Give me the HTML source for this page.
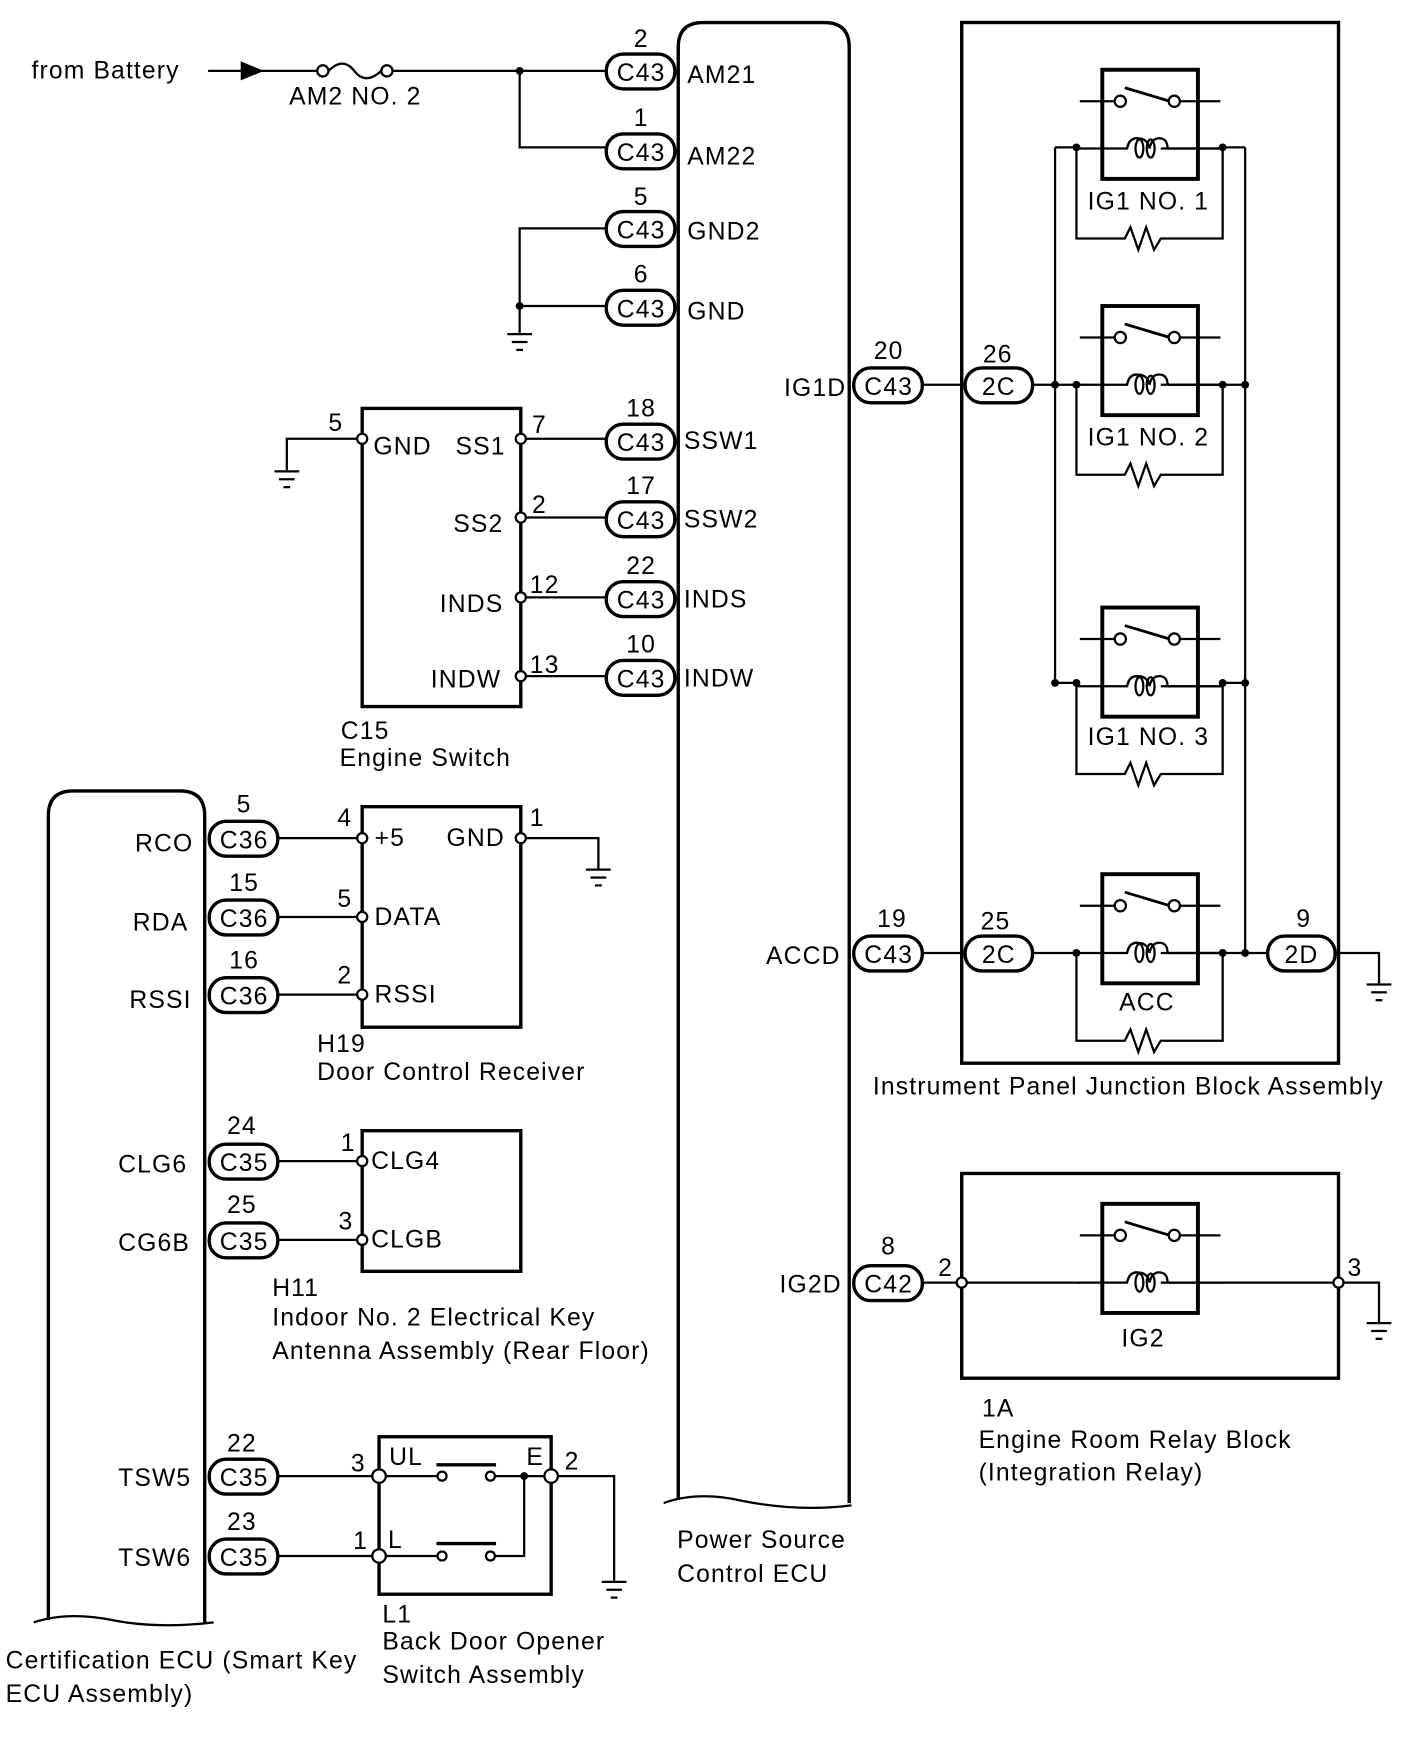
<!DOCTYPE html>
<html><head><meta charset="utf-8"><style>
html,body{margin:0;padding:0;background:#fff;}
svg{display:block;}
text{font-family:"Liberation Sans",Arial,sans-serif;font-size:22px;fill:#000;letter-spacing:1px;}
</style></head><body>
<svg width="1424" height="1763" viewBox="0 0 1266 1567" preserveAspectRatio="none" xmlns="http://www.w3.org/2000/svg" font-family="Liberation Sans, Arial, sans-serif">
<defs>
<g id="gnd" stroke="#000" stroke-width="2" fill="none">
<line x1="-11" y1="0" x2="11" y2="0"/><line x1="-7" y1="7" x2="7" y2="7"/><line x1="-3" y1="14" x2="3" y2="14"/>
</g>
<g id="relay" stroke="#000" fill="none">
<rect x="980" y="0" width="85" height="97" stroke-width="3.5"/>
<line x1="960" y1="28" x2="991" y2="28" stroke-width="2"/>
<circle cx="996" cy="28" r="5" stroke-width="2" fill="#fff"/>
<line x1="1000" y1="16" x2="1040" y2="28" stroke-width="2.5"/>
<circle cx="1044" cy="28" r="5" stroke-width="2" fill="#fff"/>
<line x1="1049" y1="28" x2="1085" y2="28" stroke-width="2"/>
<path d="M957 70 H1002 Q1004 60 1012 61 Q1020 61 1022 70 M1032 70 H1087" stroke-width="2"/>
<path d="M1002 70 Q1004 60 1012 61 M1022 70 Q1024 60 1032 61 Q1038 62 1038 70" stroke-width="2"/>
<ellipse cx="1013" cy="70" rx="3.5" ry="8" stroke-width="2"/>
<ellipse cx="1023" cy="70" rx="3.5" ry="8" stroke-width="2"/>
<line x1="1038" y1="70" x2="1087" y2="70" stroke-width="2"/>
</g>
</defs>
<g stroke="#000" fill="none" stroke-width="2">
<line x1="185" y1="63" x2="282" y2="63"/>
<polygon points="215,56 232,63 215,70" fill="#000"/>
<circle cx="287" cy="63" r="5"/><circle cx="344" cy="63" r="5"/>
<path d="M292 63 Q305 50 315 63 Q325 76 339 63"/>
<line x1="349" y1="63" x2="540" y2="63"/>
<polyline points="462,63 462,131 540,131"/>
<polyline points="540,203 462,203 462,296"/>
<line x1="462" y1="272" x2="540" y2="272"/>
<use href="#gnd" x="462" y="297"/>
<path d="M603 1333 V42 Q603 20 625 20 H733 Q755 20 755 42 V1336" stroke-width="3"/>
<path d="M590 1336 Q620 1325 660 1334 Q710 1344 757 1338" stroke-width="2"/>
<rect x="322" y="363" width="141" height="265" stroke-width="3"/>
<polyline points="318,390 255,390 255,418"/>
<use href="#gnd" x="255" y="419"/>
<line x1="467" y1="390" x2="540" y2="390"/>
<line x1="467" y1="460" x2="540" y2="460"/>
<line x1="467" y1="531" x2="540" y2="531"/>
<line x1="467" y1="601" x2="540" y2="601"/>
<path d="M43 1440 V725 Q43 703 65 703 H160 Q182 703 182 725 V1442" stroke-width="3"/>
<path d="M30 1442 Q60 1432 100 1440 Q140 1448 190 1442"/>
<rect x="322" y="717" width="141" height="196" stroke-width="3"/>
<line x1="247" y1="745" x2="318" y2="745"/>
<line x1="247" y1="815" x2="318" y2="815"/>
<line x1="247" y1="884" x2="318" y2="884"/>
<polyline points="467,745 532,745 532,772"/>
<use href="#gnd" x="532" y="773"/>
<rect x="322" y="1005" width="141" height="125" stroke-width="3"/>
<line x1="247" y1="1032" x2="318" y2="1032"/>
<line x1="247" y1="1102" x2="318" y2="1102"/>
<rect x="337" y="1277" width="153" height="140" stroke-width="3"/>
<line x1="247" y1="1312" x2="331" y2="1312"/>
<line x1="247" y1="1383" x2="331" y2="1383"/>
<line x1="343" y1="1312" x2="389" y2="1312"/>
<line x1="343" y1="1383" x2="389" y2="1383"/>
<circle cx="393" cy="1312" r="4"/><circle cx="436" cy="1312" r="4"/>
<circle cx="393" cy="1383" r="4"/><circle cx="436" cy="1383" r="4"/>
<line x1="439" y1="1312" x2="484" y2="1312"/>
<polyline points="440,1383 466,1383 466,1312"/>
<line x1="388" y1="1302" x2="441" y2="1302" stroke-width="3"/>
<line x1="388" y1="1372" x2="441" y2="1372" stroke-width="3"/>
<polyline points="496,1312 546,1312 546,1405"/>
<use href="#gnd" x="546" y="1406"/>
<rect x="855" y="20" width="335" height="925" stroke-width="3"/>
<use href="#relay" y="62"/>
<use href="#relay" y="272"/>
<use href="#relay" y="540"/>
<use href="#relay" y="777"/>
<path d="M957 131 V212 H1000 L1005 202 L1012 222 L1019 202 L1026 222 L1032 212 H1087 V131"/>
<path d="M957 342 V422 H1000 L1005 412 L1012 432 L1019 412 L1026 432 L1032 422 H1087 V342"/>
<path d="M957 607 V688 H1000 L1005 678 L1012 698 L1019 678 L1026 698 L1032 688 H1087 V607"/>
<path d="M957 847 V925 H1000 L1005 915 L1012 935 L1019 915 L1026 935 L1032 925 H1087 V847"/>
<line x1="938" y1="131" x2="957" y2="131"/><line x1="1087" y1="131" x2="1107" y2="131"/>
<line x1="938" y1="131" x2="938" y2="607"/>
<line x1="1107" y1="131" x2="1107" y2="847"/>
<line x1="820" y1="342" x2="858" y2="342"/>
<line x1="918" y1="342" x2="957" y2="342"/><line x1="1087" y1="342" x2="1107" y2="342"/>
<line x1="938" y1="607" x2="957" y2="607"/><line x1="1087" y1="607" x2="1107" y2="607"/>
<line x1="820" y1="847" x2="858" y2="847"/>
<line x1="918" y1="847" x2="957" y2="847"/><line x1="1087" y1="847" x2="1127" y2="847"/>
<polyline points="1187,847 1226,847 1226,874"/>
<use href="#gnd" x="1226" y="875"/>
<rect x="855" y="1043" width="335" height="182" stroke-width="3"/>
<use href="#relay" y="1070"/>
<line x1="820" y1="1140" x2="851" y2="1140"/>
<line x1="859" y1="1140" x2="960" y2="1140"/>
<line x1="1085" y1="1140" x2="1186" y2="1140"/>
<polyline points="1194,1140 1226,1140 1226,1175"/>
<use href="#gnd" x="1226" y="1176"/>
</g>
<g fill="#000">
<circle cx="462" cy="63" r="3.5"/><circle cx="462" cy="272" r="3.5"/>
<circle cx="466" cy="1312" r="3.5"/>
<circle cx="957" cy="131" r="3.5"/><circle cx="1087" cy="131" r="3.5"/>
<circle cx="938" cy="342" r="3.5"/><circle cx="957" cy="342" r="3.5"/><circle cx="1087" cy="342" r="3.5"/><circle cx="1107" cy="342" r="3.5"/>
<circle cx="938" cy="607" r="3.5"/><circle cx="957" cy="607" r="3.5"/><circle cx="1087" cy="607" r="3.5"/><circle cx="1107" cy="607" r="3.5"/>
<circle cx="957" cy="847" r="3.5"/><circle cx="1087" cy="847" r="3.5"/><circle cx="1107" cy="847" r="3.5"/>
</g>
<g fill="#fff" stroke="#000" stroke-width="2">
<circle cx="322" cy="390" r="4.5"/><circle cx="463" cy="390" r="4.5"/><circle cx="463" cy="460" r="4.5"/><circle cx="463" cy="531" r="4.5"/><circle cx="463" cy="601" r="4.5"/>
<circle cx="322" cy="745" r="4.5"/><circle cx="322" cy="815" r="4.5"/><circle cx="322" cy="884" r="4.5"/><circle cx="463" cy="745" r="4.5"/>
<circle cx="322" cy="1032" r="4.5"/><circle cx="322" cy="1102" r="4.5"/>
<circle cx="337" cy="1312" r="6"/><circle cx="337" cy="1383" r="6"/><circle cx="490" cy="1312" r="6"/>
<circle cx="855" cy="1140" r="4.5"/><circle cx="1190" cy="1140" r="4.5"/>
</g>
<g fill="#fff" stroke="#000" stroke-width="3">
<rect x="539" y="48" width="61" height="31" rx="15"/>
<rect x="539" y="119" width="61" height="31" rx="15"/>
<rect x="539" y="188" width="61" height="31" rx="15"/>
<rect x="539" y="258" width="61" height="31" rx="15"/>
<rect x="539" y="377" width="61" height="31" rx="15"/>
<rect x="539" y="446" width="61" height="31" rx="15"/>
<rect x="539" y="517" width="61" height="31" rx="15"/>
<rect x="539" y="587" width="61" height="31" rx="15"/>
<rect x="186" y="730" width="61" height="31" rx="15"/>
<rect x="186" y="800" width="61" height="31" rx="15"/>
<rect x="186" y="869" width="61" height="31" rx="15"/>
<rect x="186" y="1017" width="61" height="31" rx="15"/>
<rect x="186" y="1087" width="61" height="31" rx="15"/>
<rect x="186" y="1297" width="61" height="31" rx="15"/>
<rect x="186" y="1368" width="61" height="31" rx="15"/>
<rect x="759" y="327" width="61" height="31" rx="15"/>
<rect x="858" y="327" width="60" height="31" rx="15"/>
<rect x="759" y="832" width="61" height="31" rx="15"/>
<rect x="858" y="832" width="60" height="31" rx="15"/>
<rect x="1127" y="832" width="60" height="31" rx="15"/>
<rect x="759" y="1125" width="61" height="31" rx="15"/>
</g>
<g text-anchor="middle">
<text x="570" y="72">C43</text><text x="570" y="143">C43</text><text x="570" y="212">C43</text><text x="570" y="282">C43</text>
<text x="570" y="401">C43</text><text x="570" y="470">C43</text><text x="570" y="541">C43</text><text x="570" y="611">C43</text>
<text x="217" y="754">C36</text><text x="217" y="824">C36</text><text x="217" y="893">C36</text>
<text x="217" y="1041">C35</text><text x="217" y="1111">C35</text><text x="217" y="1321">C35</text><text x="217" y="1392">C35</text>
<text x="790" y="351">C43</text><text x="888" y="351">2C</text>
<text x="790" y="856">C43</text><text x="888" y="856">2C</text><text x="1157" y="856">2D</text>
<text x="790" y="1149">C42</text>
<text x="570" y="42">2</text><text x="570" y="112">1</text><text x="570" y="182">5</text><text x="570" y="251">6</text>
<text x="570" y="370">18</text><text x="570" y="439">17</text><text x="570" y="510">22</text><text x="570" y="580">10</text>
<text x="217" y="722">5</text><text x="217" y="792">15</text><text x="217" y="861">16</text>
<text x="215" y="1008">24</text><text x="215" y="1078">25</text><text x="215" y="1290">22</text><text x="215" y="1360">23</text>
<text x="790" y="319">20</text><text x="887" y="322">26</text>
<text x="793" y="824">19</text><text x="885" y="826">25</text><text x="1159" y="824">9</text>
<text x="790" y="1115">8</text>
</g>
<text x="28" y="70">from Battery</text>
<text x="257" y="93">AM2 NO. 2</text>
<text x="611" y="74">AM21</text><text x="611" y="146">AM22</text><text x="611" y="213">GND2</text><text x="611" y="284">GND</text>
<text x="608" y="399">SSW1</text><text x="608" y="469">SSW2</text><text x="608" y="540">INDS</text><text x="608" y="610">INDW</text>
<text x="292" y="383">5</text><text x="332" y="404">GND</text><text x="405" y="404">SS1</text><text x="473" y="385">7</text>
<text x="403" y="473">SS2</text><text x="473" y="456">2</text>
<text x="391" y="544">INDS</text><text x="471" y="527">12</text>
<text x="383" y="611">INDW</text><text x="471" y="598">13</text>
<text x="303" y="657">C15</text><text x="302" y="681">Engine Switch</text>
<text x="120" y="757">RCO</text><text x="118" y="827">RDA</text><text x="115" y="896">RSSI</text>
<text x="300" y="734">4</text><text x="333" y="752">+5</text><text x="397" y="752">GND</text><text x="471" y="734">1</text>
<text x="300" y="806">5</text><text x="333" y="822">DATA</text>
<text x="300" y="874">2</text><text x="333" y="891">RSSI</text>
<text x="282" y="935">H19</text><text x="282" y="960">Door Control Receiver</text>
<text x="105" y="1042">CLG6</text><text x="105" y="1112">CG6B</text>
<text x="303" y="1023">1</text><text x="330" y="1039">CLG4</text>
<text x="301" y="1093">3</text><text x="330" y="1109">CLGB</text>
<text x="242" y="1152">H11</text><text x="242" y="1178">Indoor No. 2 Electrical Key</text><text x="242" y="1208">Antenna Assembly (Rear Floor)</text>
<text x="105" y="1321">TSW5</text><text x="105" y="1392">TSW6</text>
<text x="312" y="1308">3</text><text x="346" y="1302">UL</text><text x="468" y="1302">E</text><text x="502" y="1306">2</text>
<text x="314" y="1377">1</text><text x="345" y="1376">L</text>
<text x="340" y="1442">L1</text><text x="340" y="1466">Back Door Opener</text><text x="340" y="1496">Switch Assembly</text>
<text x="5" y="1483">Certification ECU (Smart Key</text><text x="5" y="1513">ECU Assembly)</text>
<text x="602" y="1376">Power Source</text><text x="602" y="1406">Control ECU</text>
<text x="697" y="352">IG1D</text><text x="681" y="857">ACCD</text><text x="693" y="1149">IG2D</text>
<text x="967" y="186">IG1 NO. 1</text><text x="967" y="396">IG1 NO. 2</text><text x="967" y="662">IG1 NO. 3</text><text x="995" y="898">ACC</text>
<text x="776" y="973">Instrument Panel Junction Block Assembly</text>
<text x="834" y="1134">2</text><text x="1198" y="1134">3</text><text x="997" y="1197">IG2</text>
<text x="873" y="1259">1A</text><text x="870" y="1287">Engine Room Relay Block</text><text x="870" y="1316">(Integration Relay)</text>
</svg>
</body></html>
